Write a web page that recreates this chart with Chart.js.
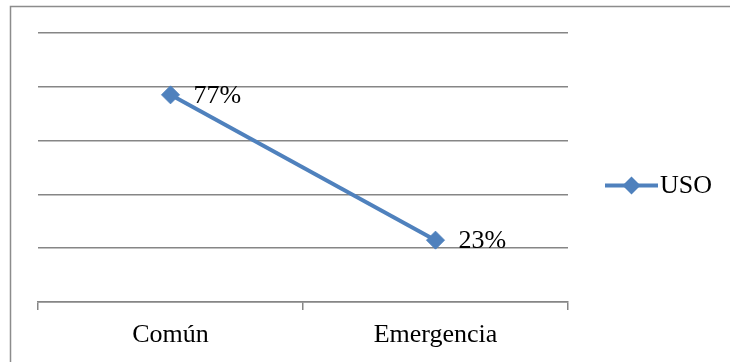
<!DOCTYPE html>
<html>
<head>
<meta charset="utf-8">
<script src="https://cdn.jsdelivr.net/npm/chart.js@4/dist/chart.umd.min.js"></script>
<style>
  html, body { margin: 0; padding: 0; background: #fff; }
  #wrap { width: 730px; height: 362px; position: relative; }
</style>
</head>
<body>
<div id="wrap"><canvas id="c" width="730" height="362"></canvas></div>
<script>
// Categories and the percentage for each one
const categories = ['Común', 'Emergencia'];
const seriesName = 'USO';
const usoValues = [77, 23];
const yTicks = [0, 20, 40, 60, 80, 100];

const BLUE = '#4F81BD';
const GRID = '#868686';
const FONT = '"Liberation Serif", "Times New Roman", serif';

// Thin frame along the top and left edges
const framePlugin = {
  id: 'frame',
  beforeDraw(chart) {
    const ctx = chart.ctx;
    ctx.save();
    ctx.strokeStyle = '#8c8c8c';
    ctx.lineWidth = 1.5;
    ctx.beginPath();
    ctx.moveTo(10.5, chart.height);
    ctx.lineTo(10.5, 6.5);
    ctx.lineTo(chart.width, 6.5);
    ctx.stroke();
    ctx.restore();
  }
};

// Value labels to the right of each marker
const valueLabels = {
  id: 'valueLabels',
  afterDatasetsDraw(chart) {
    const ctx = chart.ctx;
    ctx.save();
    ctx.font = '26px ' + FONT;
    ctx.fillStyle = '#000';
    ctx.textAlign = 'left';
    ctx.textBaseline = 'middle';
    chart.data.datasets.forEach((ds, i) => {
      chart.getDatasetMeta(i).data.forEach((pt, j) => {
        ctx.fillText(ds.data[j] + '%', pt.x + 23, pt.y + 1);
      });
    });
    ctx.restore();
  }
};

// Legend on the right: line with a diamond marker, then the series name
const sideLegend = {
  id: 'sideLegend',
  afterDraw(chart) {
    const ctx = chart.ctx;
    const area = chart.chartArea;
    const x0 = area.right + 37, x1 = x0 + 53;
    const y = (area.top + area.bottom) / 2 + 18;
    chart.data.datasets.forEach(ds => {
      ctx.save();
      ctx.strokeStyle = ds.borderColor;
      ctx.lineWidth = 4;
      ctx.beginPath();
      ctx.moveTo(x0, y);
      ctx.lineTo(x1, y);
      ctx.stroke();
      const cx = (x0 + x1) / 2, r = 9;
      ctx.fillStyle = ds.pointBackgroundColor;
      ctx.beginPath();
      ctx.moveTo(cx, y - r);
      ctx.lineTo(cx + r, y);
      ctx.lineTo(cx, y + r);
      ctx.lineTo(cx - r, y);
      ctx.closePath();
      ctx.fill();
      ctx.font = '26px ' + FONT;
      ctx.fillStyle = '#000';
      ctx.textAlign = 'left';
      ctx.textBaseline = 'middle';
      ctx.fillText(ds.label, x1 + 2, y + 1);
      ctx.restore();
    });
  }
};

new Chart(document.getElementById('c'), {
  type: 'line',
  data: {
    labels: categories,
    datasets: [{
      label: seriesName,
      data: usoValues,
      borderColor: BLUE,
      backgroundColor: BLUE,
      borderWidth: 4,
      pointStyle: 'rectRot',
      pointRadius: 9,
      pointBorderWidth: 1,
      pointBackgroundColor: BLUE,
      pointBorderColor: BLUE,
      tension: 0,
      fill: false
    }]
  },
  options: {
    responsive: false,
    animation: false,
    events: [],
    layout: { padding: { left: 38, top: 33, right: 162, bottom: 0 } },
    plugins: {
      legend: { display: false },
      tooltip: { enabled: false }
    },
    scales: {
      x: {
        type: 'category',
        offset: true,
        grid: {
          offset: true,
          drawOnChartArea: false,
          drawTicks: true,
          tickLength: 8,
          color: GRID,
          lineWidth: 1.5
        },
        border: { display: true, color: GRID, width: 1.5 },
        ticks: {
          color: '#000',
          font: { family: FONT, size: 26 },
          padding: 10,
          maxRotation: 0
        },
        afterFit(scale) { scale.height = 60; }
      },
      y: {
        min: yTicks[0],
        max: yTicks[yTicks.length - 1],
        afterBuildTicks(scale) { scale.ticks = yTicks.map(v => ({ value: v })); },
        ticks: { display: false },
        grid: { color: GRID, lineWidth: 1.5, drawTicks: false },
        border: { display: false },
        afterFit(scale) { scale.width = 0; }
      }
    }
  },
  plugins: [framePlugin, valueLabels, sideLegend]
});
</script>
</body>
</html>
